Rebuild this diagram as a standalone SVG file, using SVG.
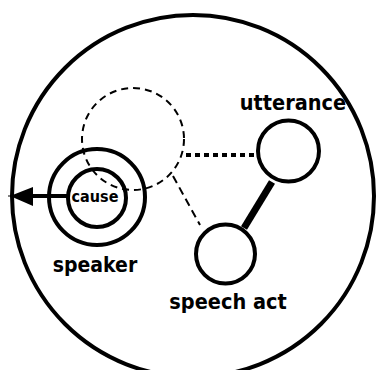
<svg xmlns="http://www.w3.org/2000/svg" width="377" height="370" viewBox="0 0 377 370">
<style>
.ring{fill:none;stroke:#000;stroke-width:4}
.lbl{font-family:"DejaVu Sans Condensed","DejaVu Sans",sans-serif;font-stretch:condensed;font-weight:bold;fill:#000;text-anchor:middle}
</style>
<defs>
<marker id="ah" markerUnits="userSpaceOnUse" markerWidth="26" markerHeight="22" refX="1" refY="10" orient="auto-start-reverse">
<path d="M1,10 L24,1 L24,19 Z" fill="#000"/>
</marker>
</defs>
<rect width="377" height="370" fill="#fff"/>
<g id="world"><circle class="ring" cx="193" cy="196" r="181"/></g>
<g id="connectors">
<circle cx="133" cy="139" r="51" fill="none" stroke="#000" stroke-width="2" stroke-dasharray="7 5"/>
<line x1="186" y1="155" x2="257" y2="155" stroke="#000" stroke-width="4" stroke-dasharray="5 4"/>
<line x1="173" y1="176" x2="200" y2="225" stroke="#000" stroke-width="2" stroke-dasharray="8 5"/>
<line x1="272" y1="182" x2="244" y2="228" stroke="#000" stroke-width="7"/>
<line x1="67" y1="196" x2="33" y2="196" stroke="#000" stroke-width="4"/>
<path d="M10,196 L33,187 L33,206 Z" fill="#000"/>
<line x1="8" y1="196" x2="14" y2="196" stroke="#000" stroke-width="1"/>
</g>
<g id="speaker">
<circle class="ring" cx="97" cy="197" r="48"/>
<text class="lbl" x="95" y="272" font-size="21">speaker</text>
</g>
<g id="cause">
<circle class="ring" cx="97" cy="198" r="29"/>
<text class="lbl" x="95" y="202" font-size="16">cause</text>
</g>
<g id="utterance">
<circle class="ring" cx="288.5" cy="151" r="30.5"/>
<text class="lbl" x="293" y="110" font-size="21.5">utterance</text>
</g>
<g id="speech-act">
<circle class="ring" cx="225.5" cy="254" r="29.5"/>
<text class="lbl" x="228" y="309" font-size="21.5">speech act</text>
</g>
</svg>
